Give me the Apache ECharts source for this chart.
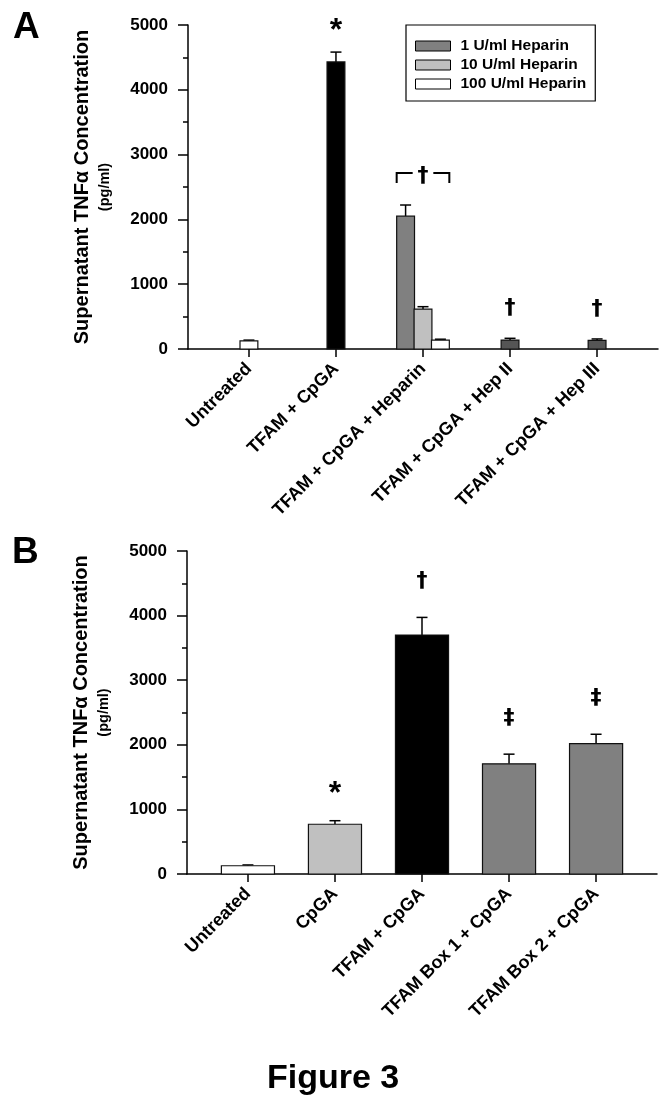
<!DOCTYPE html>
<html>
<head>
<meta charset="utf-8">
<script src="https://cdn.jsdelivr.net/npm/echarts@6/dist/echarts.min.js"></script>
<style>html,body{margin:0;padding:0;background:#fff;}#c{width:665px;height:1102px;}</style>
</head>
<body>
<div id="c"></div>
<script>
// ---------- data ----------
const catsA = ['Untreated', 'TFAM + CpGA', 'TFAM + CpGA + Heparin', 'TFAM + CpGA + Hep II', 'TFAM + CpGA + Hep III'];
const mainA = [125, 4430, null, 138, 133];
const mainErrA = [12, 152, null, 27, 22];
const heparinIndex = 2;
const heparinNames = ['1 U/ml Heparin', '10 U/ml Heparin', '100 U/ml Heparin'];
const heparinA = [2050, 615, 137];
const heparinErrA = [172, 38, 14];
const marksA = ['', '*', '†', '†', '†'];

const catsB = ['Untreated', 'CpGA', 'TFAM + CpGA', 'TFAM Box 1 + CpGA', 'TFAM Box 2 + CpGA'];
const valsB = [128, 770, 3700, 1705, 2018];
const errB = [12, 55, 272, 150, 145];
const marksB = ['', '*', '†', '‡', '‡'];

const yTicks = [0, 1000, 2000, 3000, 4000, 5000];

// ---------- styles ----------
const FONT = "'Liberation Sans', Arial, Helvetica, sans-serif";
const MARKFONT = "'DejaVu Sans', 'Liberation Sans', sans-serif";
const colorsA = ['#ffffff', '#000000', null, '#555555', '#555555'];
const heparinColors = ['#808080', '#c0c0c0', '#ffffff'];
const colorsB = ['#ffffff', '#c0c0c0', '#000000', '#808080', '#808080'];
const barWA = 0.205, barWB = 0.61, hepOffset = 0.2;

function barRenderer(colorOf, widthUnits, offsetUnits) {
  return function (params, api) {
    const i = api.value(0), v = api.value(1), e = api.value(2);
    const x = i + offsetUnits;
    const p0 = api.coord([x, 0]);
    const p1 = api.coord([x, v]);
    const p2 = api.coord([x, v + e]);
    const w = api.size([widthUnits, 0])[0];
    return {
      type: 'group', children: [
        { type: 'line', shape: { x1: p1[0], y1: p1[1], x2: p2[0], y2: p2[1] }, style: { stroke: '#000', lineWidth: 1.5 } },
        { type: 'line', shape: { x1: p2[0] - 5.5, y1: p2[1], x2: p2[0] + 5.5, y2: p2[1] }, style: { stroke: '#000', lineWidth: 1.5 } },
        { type: 'rect', shape: { x: p0[0] - w / 2, y: p1[1], width: w, height: p0[1] - p1[1] }, style: { fill: colorOf(i), stroke: '#111', lineWidth: 1.2 } }
      ]
    };
  };
}

function markRenderer(marks, bracketIdx, groupHalfUnits, gap) {
  return function (params, api) {
    const i = api.value(0), top = api.value(1);
    const p = api.coord([i, top]);
    const m = marks[i];
    const isStar = m === '*';
    const cy = p[1] - (i === bracketIdx ? gap - 1 : (isStar ? gap - 4 : gap));
    const children = [{
      type: 'text', x: p[0], y: cy + (isStar ? 5 : 0),
      style: {
        text: m, fontSize: isStar ? 32 : 22, fontWeight: 'bold',
        fontFamily: isStar ? FONT : MARKFONT, fill: '#000', align: 'center', verticalAlign: 'middle'
      }
    }];
    if (i === bracketIdx) {
      const l = api.coord([i - groupHalfUnits, top])[0];
      const r = api.coord([i + groupHalfUnits, top])[0];
      const by = cy - 3;
      const st = { stroke: '#000', lineWidth: 2, fill: null };
      children.push({ type: 'polyline', shape: { points: [[l, by + 10], [l, by], [l + 16, by]] }, style: st });
      children.push({ type: 'polyline', shape: { points: [[r - 16, by], [r, by], [r, by + 10]] }, style: st });
    }
    return { type: 'group', children };
  };
}

const idx = [0, 1, 2, 3, 4];
function xAxisCfg(gridIndex, cats) {
  return {
    gridIndex, type: 'value', min: -0.7, max: 4.7,
    axisLine: { show: true, onZero: false, lineStyle: { color: '#000', width: 1.5 } },
    axisTick: { show: true, customValues: idx, length: 8, lineStyle: { color: '#000', width: 1.5 } },
    axisLabel: {
      show: true, customValues: idx, rotate: 45, margin: 17,
      formatter: v => cats[Math.round(v)] || '',
      fontSize: 18, fontWeight: 'bold', fontFamily: FONT, color: '#000'
    },
    splitLine: { show: false }
  };
}
function yAxisCfg(gridIndex) {
  return {
    gridIndex, type: 'value', min: 0, max: 5000, interval: 1000,
    name: '{a|Supernatant TNFα Concentration}\n{b|(pg/ml)}',
    nameLocation: 'middle', nameRotate: 90, nameGap: 71,
    nameTextStyle: {
      rich: {
        a: { fontSize: 20, fontWeight: 'bold', fontFamily: FONT, color: '#000', lineHeight: 22, align: 'center' },
        b: { fontSize: 14.5, fontWeight: 'bold', fontFamily: FONT, color: '#000', lineHeight: 24, align: 'center' }
      }
    },
    axisLine: { show: true, onZero: false, lineStyle: { color: '#000', width: 1.5 } },
    axisTick: { show: true, length: 10, lineStyle: { color: '#000', width: 1.5 } },
    minorTick: { show: true, splitNumber: 2, length: 5, lineStyle: { color: '#000', width: 1.5 } },
    axisLabel: {
      margin: 20, fontSize: 17, fontWeight: 'bold', fontFamily: FONT, color: '#000',
      formatter: v => String(v)
    },
    splitLine: { show: false }
  };
}

const series = [];
series.push({
  type: 'custom', name: 'A main', xAxisIndex: 0, yAxisIndex: 0, clip: false,
  renderItem: barRenderer(i => colorsA[i], barWA, 0),
  encode: { x: 0, y: 1 },
  data: idx.filter(i => mainA[i] != null).map(i => [i, mainA[i], mainErrA[i]])
});
heparinNames.forEach((nm, k) => {
  series.push({
    type: 'custom', name: nm, xAxisIndex: 0, yAxisIndex: 0, clip: false,
    itemStyle: { color: heparinColors[k], borderColor: '#000', borderWidth: 1 },
    renderItem: barRenderer(() => heparinColors[k], barWA, (k - 1) * hepOffset),
    encode: { x: 0, y: 1 },
    data: [[heparinIndex, heparinA[k], heparinErrA[k]]]
  });
});
series.push({
  type: 'custom', name: 'A marks', xAxisIndex: 0, yAxisIndex: 0, clip: false,
  renderItem: markRenderer(marksA, heparinIndex, hepOffset + barWA / 2, 30),
  encode: { x: 0, y: 1 },
  data: idx.filter(i => marksA[i]).map(i => [i, i === heparinIndex
    ? Math.max(...heparinA.map((v, k) => v + heparinErrA[k]))
    : mainA[i] + mainErrA[i]])
});
series.push({
  type: 'custom', name: 'B bars', xAxisIndex: 1, yAxisIndex: 1, clip: false,
  renderItem: barRenderer(i => colorsB[i], barWB, 0),
  encode: { x: 0, y: 1 },
  data: idx.map(i => [i, valsB[i], errB[i]])
});
series.push({
  type: 'custom', name: 'B marks', xAxisIndex: 1, yAxisIndex: 1, clip: false,
  renderItem: markRenderer(marksB, -1, 0, 36),
  encode: { x: 0, y: 1 },
  data: idx.filter(i => marksB[i]).map(i => [i, valsB[i] + errB[i]])
});

const chart = echarts.init(document.getElementById('c'), null, { renderer: 'canvas' });
chart.setOption({
  animation: false,
  backgroundColor: '#ffffff',
  title: [
    { text: 'A', left: 8, top: 4, textStyle: { fontSize: 37, fontWeight: 'bold', fontFamily: FONT, color: '#000' } },
    { text: 'B', left: 7, top: 529, textStyle: { fontSize: 37, fontWeight: 'bold', fontFamily: FONT, color: '#000' } },
    { text: 'Figure 3', left: 262, top: 1057, textStyle: { fontSize: 34, fontWeight: 'bold', fontFamily: FONT, color: '#000' } }
  ],
  legend: {
    orient: 'vertical', left: 406, top: 25,
    borderColor: '#000', borderWidth: 1.2, padding: [13, 9, 9, 9],
    itemWidth: 35, itemHeight: 10, itemGap: 3, icon: 'rect',
    textStyle: { fontSize: 15.5, fontWeight: 'bold', fontFamily: FONT, color: '#000', padding: [0, 0, 0, 5] },
    selectedMode: false,
    data: heparinNames.map((n, k) => ({ name: n, itemStyle: { color: heparinColors[k], borderColor: '#000', borderWidth: 1 } }))
  },
  grid: [
    { left: 188, top: 25, width: 470, height: 324, outerBoundsMode: 'none', containLabel: false },
    { left: 187, top: 551, width: 470, height: 323, outerBoundsMode: 'none', containLabel: false }
  ],
  xAxis: [xAxisCfg(0, catsA), xAxisCfg(1, catsB)],
  yAxis: [yAxisCfg(0), yAxisCfg(1)],
  series
});
</script>
</body>
</html>
